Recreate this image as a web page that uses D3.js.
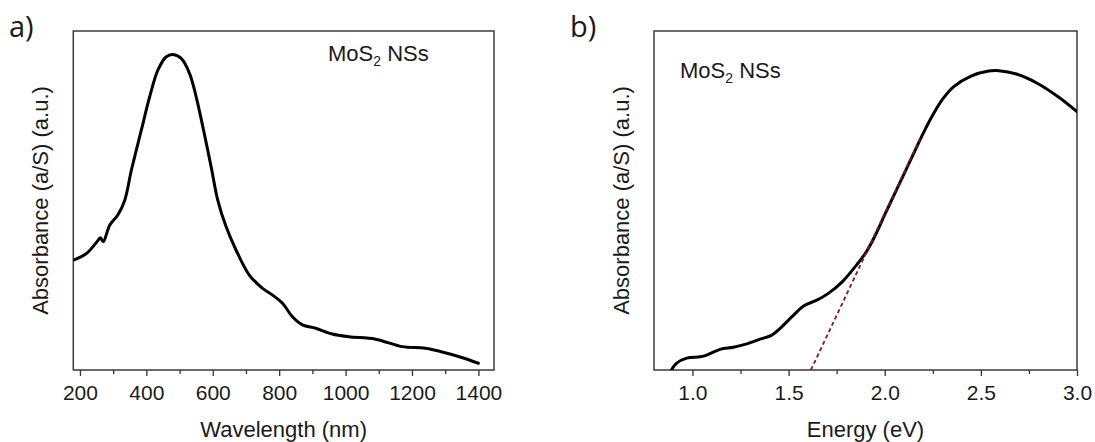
<!DOCTYPE html>
<html>
<head>
<meta charset="utf-8">
<script src="https://cdn.jsdelivr.net/npm/d3@7"></script>
<style>
  html, body { margin: 0; padding: 0; background: #fff; }
  svg { display: block; }
  text { font-family: "Liberation Sans", Arial, sans-serif; fill: #1a1a1a; }
  .panel-tag { font-family: "Open Sans", "Liberation Sans", sans-serif; }
</style>
</head>
<body>
<svg id="chart" width="1095" height="442"></svg>
<script>
// (a) UV-Vis-NIR absorbance spectrum of MoS2 nanosheets
const wavelengthNm = [180, 220, 255, 262, 270, 290, 314, 335, 355, 385, 410, 435, 460, 480, 505, 530, 550, 570, 595, 615, 640, 670, 710, 750, 780, 810, 840, 870, 910, 960, 1010, 1090, 1170, 1240, 1300, 1350, 1400];
const absorbanceA  = [0.324, 0.344, 0.383, 0.390, 0.378, 0.428, 0.457, 0.501, 0.590, 0.708, 0.806, 0.885, 0.924, 0.931, 0.919, 0.875, 0.806, 0.718, 0.600, 0.501, 0.423, 0.354, 0.280, 0.241, 0.221, 0.197, 0.157, 0.133, 0.123, 0.106, 0.098, 0.091, 0.069, 0.064, 0.051, 0.037, 0.020];

// (b) same spectrum on an energy scale, with the linear band-edge fit
const energyEv     = [0.87, 0.918, 0.97, 1.04, 1.074, 1.144, 1.213, 1.283, 1.352, 1.413, 1.456, 1.526, 1.578, 1.647, 1.707, 1.779, 1.851, 1.906, 1.96, 2.0, 2.05, 2.1, 2.15, 2.2, 2.25, 2.3, 2.359, 2.449, 2.54, 2.594, 2.685, 2.793, 2.902, 3.0];
const absorbanceB  = [-0.02, 0.020, 0.035, 0.039, 0.044, 0.061, 0.067, 0.077, 0.091, 0.103, 0.123, 0.162, 0.189, 0.206, 0.226, 0.260, 0.308, 0.350, 0.408, 0.458, 0.518, 0.578, 0.638, 0.698, 0.752, 0.798, 0.836, 0.867, 0.882, 0.883, 0.873, 0.846, 0.806, 0.762];
const tangentEv    = [1.616, 2.19];
const tangentAbs   = [0.0, 0.69];

const wavelengthTicks      = [200, 400, 600, 800, 1000, 1200, 1400];
const wavelengthMinorTicks = [300, 500, 700, 900, 1100, 1300];
const energyTicks          = [1.0, 1.5, 2.0, 2.5, 3.0];
const energyMinorTicks     = [1.25, 1.75, 2.25, 2.75];

const yTitle = "Absorbance (a/S) (a.u.)";

const svg = d3.select("#chart");

function drawPanel(cfg) {
  const { left, right, top, bottom } = cfg.box;
  const x = d3.scaleLinear().domain(cfg.xDomain).range([left, right]);
  const y = d3.scaleLinear().domain([0, 1]).range([bottom, top]);
  const g = svg.append("g");

  const clipId = "clip-" + cfg.id;
  svg.append("clipPath").attr("id", clipId)
    .append("rect").attr("x", left).attr("y", top)
    .attr("width", right - left).attr("height", bottom - top);

  // bottom axis: major ticks with labels, minor ticks without
  const axisMajor = d3.axisBottom(x).tickValues(cfg.ticks).tickSize(6).tickPadding(9)
    .tickFormat(cfg.fmt);
  const axisMinor = d3.axisBottom(x).tickValues(cfg.minor).tickSize(4).tickFormat("");
  const ga = g.append("g").attr("transform", `translate(0,${bottom})`).call(axisMajor);
  const gm = g.append("g").attr("transform", `translate(0,${bottom})`).call(axisMinor);
  [ga, gm].forEach(s => {
    s.select(".domain").remove();
    s.selectAll("line").attr("stroke", "#333").attr("stroke-width", 1.3);
  });
  ga.selectAll("text").attr("font-size", 21).attr("fill", "#1a1a1a")
    .attr("font-family", "Liberation Sans, Arial, sans-serif");

  // frame
  g.append("rect").attr("x", left).attr("y", top)
    .attr("width", right - left).attr("height", bottom - top)
    .attr("fill", "none").attr("stroke", "#3a3a3a").attr("stroke-width", 1.5);

  // spectrum
  const line = d3.line().x(d => x(d[0])).y(d => y(d[1])).curve(d3.curveCatmullRom.alpha(0.5));
  const pts = d3.zip(cfg.xs, cfg.ys);
  g.append("path").datum(pts).attr("clip-path", `url(#${clipId})`)
    .attr("d", line).attr("fill", "none").attr("stroke", "#000")
    .attr("stroke-width", 3).attr("stroke-linejoin", "round").attr("stroke-linecap", "round");

  if (cfg.fitX) {
    const fit = d3.line().x(d => x(d[0])).y(d => y(d[1]));
    g.append("path").datum(d3.zip(cfg.fitX, cfg.fitY)).attr("clip-path", `url(#${clipId})`)
      .attr("d", fit).attr("fill", "none").attr("stroke", "#8b1416")
      .attr("stroke-width", 1.8).attr("stroke-dasharray", "4,3");
  }

  // sample label
  const lbl = g.append("text").attr("x", cfg.label[0]).attr("y", cfg.label[1]).attr("font-size", 22);
  lbl.append("tspan").text("MoS");
  lbl.append("tspan").attr("font-size", 14).attr("dy", 5).text("2");
  lbl.append("tspan").attr("dy", -5).text(" NSs");

  // axis titles
  g.append("text").attr("x", (left + right) / 2).attr("y", 437)
    .attr("text-anchor", "middle").attr("font-size", 22).text(cfg.xTitle);
  g.append("text").attr("transform", `translate(${left - 25},${(top + bottom) / 2}) rotate(-90)`)
    .attr("text-anchor", "middle").attr("font-size", 22).text(yTitle);

  // panel tag
  g.append("text").attr("class", "panel-tag").attr("x", cfg.tag[0]).attr("y", cfg.tag[1])
    .attr("font-size", 29).text(cfg.tagText);
}

drawPanel({
  id: "a", box: { left: 73.3, right: 494, top: 31, bottom: 370 },
  xDomain: [180, 1447], ticks: wavelengthTicks, minor: wavelengthMinorTicks, fmt: d3.format("d"),
  xs: wavelengthNm, ys: absorbanceA,
  label: [328, 61], xTitle: "Wavelength (nm)", tag: [9, 37], tagText: "a)"
});

drawPanel({
  id: "b", box: { left: 654, right: 1077, top: 31, bottom: 370 },
  xDomain: [0.8, 3.0], ticks: energyTicks, minor: energyMinorTicks, fmt: d3.format(".1f"),
  xs: energyEv, ys: absorbanceB, fitX: tangentEv, fitY: tangentAbs,
  label: [680, 78], xTitle: "Energy (eV)", tag: [570, 37], tagText: "b)"
});
</script>
</body>
</html>
